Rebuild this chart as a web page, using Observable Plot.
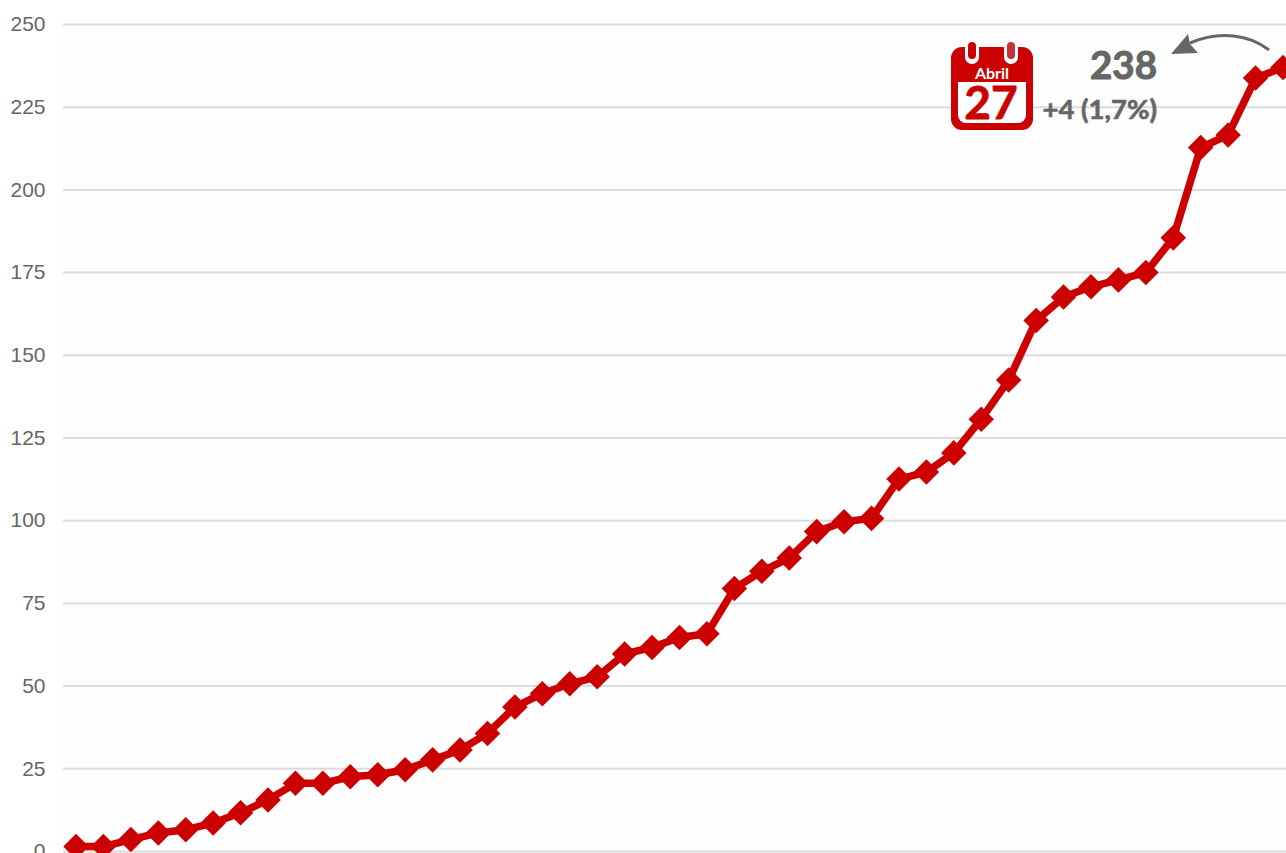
<!DOCTYPE html>
<html>
<head>
<meta charset="utf-8">
<style>html,body{margin:0;padding:0;background:#fff;overflow:hidden}svg{display:block}</style>
<script src="https://cdn.jsdelivr.net/npm/d3@7"></script>
<script src="https://cdn.jsdelivr.net/npm/@observablehq/plot@0.6"></script>
</head>
<body>
<div id="chart"></div>
<script>
const values = [1.5,1.5,3.6,5.6,6.6,8.6,11.7,15.6,20.6,20.6,22.6,23.2,24.7,27.7,30.7,35.7,43.7,47.7,50.7,52.8,59.7,61.7,64.7,65.8,79.5,84.7,88.7,96.7,99.7,100.7,112.6,114.7,120.5,130.7,142.5,160.5,167.6,170.7,172.8,175,185.5,212.8,216.6,233.8,237];
const days = values.map((_, i) => i);
const yTicks = [0,25,50,75,100,125,150,175,200,225,250];
const RED = "#cc0000", GREY = "#666666";
const rows = days.map((d, i) => ({day: d, value: values[i]}));

const plot = Plot.plot({
  width: 1286, height: 853,
  marginLeft: 63, marginRight: 0, marginTop: 24, marginBottom: 2,
  style: {background: "#fff", fontFamily: "'Liberation Sans', Arial, sans-serif"},
  x: {domain: [0, 44], range: [75.5, 1282.5], axis: null},
  y: {domain: [0, 250], range: [851, 24], axis: null},
  marks: [
    Plot.frame({fill: "#fdfdfd", stroke: null}),
    Plot.ruleY(yTicks, {stroke: "#dcdcdc", strokeWidth: 2}),
    Plot.axisY({ticks: yTicks, tickSize: 0, tickPadding: 18, anchor: "left", fontSize: 21, color: GREY, label: null, tickFormat: d => d}),
    Plot.line(rows, {x: "day", y: "value", stroke: RED, strokeWidth: 7.5, strokeLinejoin: "round"}),
    Plot.dot(rows, {x: "day", y: "value", symbol: "diamond2", r: 11.5, fill: RED, stroke: "none"})
  ]
});
document.getElementById("chart").appendChild(plot);

// annotation
const svg = d3.select(plot);
const g = svg.append("g").attr("font-family", "Lato, sans-serif").attr("font-weight", 700);
// calendar
g.append("rect").attr("x", 951).attr("y", 47).attr("width", 82).attr("height", 83).attr("rx", 11).attr("fill", RED);
g.append("path").attr("fill", "#fff")
  .attr("d", "M958 82H1026V115a8 8 0 0 1-8 8H966a8 8 0 0 1-8-8Z");
for (const [x, c] of [[972, RED], [1011, "#c4333a"]]) {
  g.append("rect").attr("x", x - 7).attr("y", 41).attr("width", 14).attr("height", 23).attr("rx", 7).attr("fill", "#fff");
  g.append("rect").attr("x", x - 4).attr("y", 42).attr("width", 8).attr("height", 17).attr("rx", 4).attr("fill", c);
}
g.append("text").attr("x", 992).attr("y", 79).attr("text-anchor", "middle").attr("font-size", 16).attr("fill", "#fff").text("Abril");
g.append("text").attr("x", 991).attr("y", 119).attr("text-anchor", "middle").attr("font-size", 46).attr("fill", RED)
  .attr("stroke", RED).attr("stroke-width", 0.8).text("27");
// value labels
g.append("text").attr("x", 1157).attr("y", 79).attr("text-anchor", "end").attr("font-size", 38.5).attr("fill", GREY)
  .attr("stroke", GREY).attr("stroke-width", 1).text("238");
g.append("text").attr("x", 1157).attr("y", 119).attr("text-anchor", "end").attr("font-size", 27.5).attr("fill", GREY)
  .attr("stroke", GREY).attr("stroke-width", 0.6).text("+4 (1,7%)");
// arrow
g.append("path").attr("fill", "none").attr("stroke", GREY).attr("stroke-width", 3).attr("d", "M1269 50C1250 35 1220 30 1190 43");
g.append("path").attr("fill", GREY).attr("d", "M1171 54L1188 34L1190 44L1198 53Z");
</script>
</body>
</html>
